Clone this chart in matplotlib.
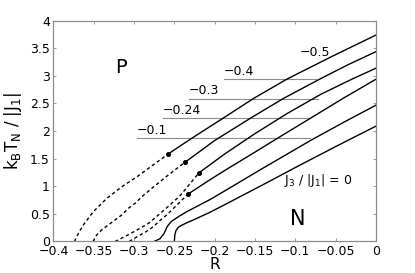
import matplotlib
matplotlib.use("Agg")
import matplotlib.pyplot as plt
import numpy as np

plt.rcParams['font.family'] = ['DejaVu Sans']
plt.rcParams['mathtext.fontset'] = 'dejavusans'

# J3/|J1| values of the curves
j3_values = [-0.5, -0.4, -0.3, -0.24, -0.1, 0]

# dashed (low-R) parts: R and T values
dash_R = {
    -0.5: [-0.374, -0.369, -0.363, -0.3506, -0.334, -0.3154, -0.2948, -0.2583],
    -0.4: [-0.351, -0.3464, -0.3402, -0.332, -0.3237, -0.3154, -0.3072, -0.2989, -0.2906, -0.275, -0.258, -0.2369],
    -0.3: [-0.3237, -0.310, -0.295, -0.282, -0.270, -0.258, -0.243, -0.2195],
    -0.24: [-0.306, -0.297, -0.285, -0.276, -0.268, -0.2596, -0.247, -0.2335],
}
dash_T = {
    -0.5: [0.0, 0.15, 0.30, 0.54, 0.78, 0.99, 1.19, 1.58],
    -0.4: [0.0, 0.118, 0.21, 0.30, 0.39, 0.48, 0.60, 0.69, 0.81, 1.0, 1.2, 1.435],
    -0.3: [0.0, 0.10, 0.22, 0.33, 0.48, 0.63, 0.83, 1.245],
    -0.24: [0.0, 0.08, 0.18, 0.27, 0.38, 0.48, 0.66, 0.855],
}

# solid parts: R and T values
solid_R = {
    -0.5: [-0.2583, -0.2285, -0.189, -0.152, -0.1107, -0.055, 0.0],
    -0.4: [-0.2369, -0.2, -0.155, -0.115, -0.07, -0.035, 0.0],
    -0.3: [-0.2195, -0.1872, -0.15, -0.11, -0.068, -0.03, 0.0],
    -0.24: [-0.2335, -0.2058, -0.1872, -0.15, -0.12, -0.085, -0.04, 0.0],
    -0.1: [-0.2753, -0.268, -0.263, -0.259, -0.254, -0.245, -0.2347, -0.2058,
           -0.1872, -0.14, -0.08, -0.04, 0.0],
    0: [-0.2501, -0.2495, -0.248, -0.245, -0.24, -0.2347, -0.2266, -0.2058,
        -0.1872, -0.14, -0.1, -0.05, 0.0],
}
solid_T = {
    -0.5: [1.58, 1.87, 2.24, 2.59, 2.94, 3.35, 3.74],
    -0.4: [1.435, 1.83, 2.24, 2.59, 2.94, 3.2, 3.44],
    -0.3: [1.245, 1.59, 1.955, 2.32, 2.67, 2.94, 3.14],
    -0.24: [0.855, 1.12, 1.29, 1.62, 1.89, 2.2, 2.6, 2.94],
    -0.1: [0.0, 0.05, 0.14, 0.27, 0.36, 0.45, 0.54, 0.76, 0.92, 1.33, 1.84, 2.16, 2.47],
    0: [0.0, 0.12, 0.20, 0.26, 0.30, 0.34, 0.39, 0.53, 0.67, 1.03, 1.34, 1.72, 2.09],
}

# label leader lines: (label, R start, R end, T)
leader_labels = ['-0.4', '-0.3', '-0.24', '-0.1']
leader_R0 = [-0.1885, -0.2319, -0.2641, -0.2964]
leader_R1 = [-0.0743, -0.0718, -0.0843, -0.0818]
leader_T = [2.94, 2.59, 2.24, 1.87]

xticks = [-0.4, -0.35, -0.3, -0.25, -0.2, -0.15, -0.1, -0.05, 0]
xticklabels = ['\u22120.4', '\u22120.35', '\u22120.3', '\u22120.25', '\u22120.2',
               '\u22120.15', '\u22120.1', '\u22120.05', '0']
yticks = [0, 0.5, 1, 1.5, 2, 2.5, 3, 3.5, 4]
yticklabels = ['0', '0.5', '1', '1.5', '2', '2.5', '3', '3.5', '4']

fig = plt.figure(figsize=(4.15, 2.73), dpi=100)
ax = fig.add_axes([0.1289, 0.1154, 0.7771, 0.8088])

gray = '#8c8c8c'
for lab, r0, r1, t in zip(leader_labels, leader_R0, leader_R1, leader_T):
    ax.plot([r0, r1], [t, t], color=gray, lw=0.8, zorder=1)
    ax.text(r0, t + 0.14, lab.replace('-', '\u2212'), fontsize=9, ha='left', va='center')

for j in j3_values:
    if j in dash_R:
        ax.plot(dash_R[j], dash_T[j], color='black', lw=1.0, linestyle=(0, (2.4, 2.0)), zorder=2)
        ax.plot([dash_R[j][-1]], [dash_T[j][-1]], 'o', color='black', ms=2.6, zorder=3)
    ax.plot(solid_R[j], solid_T[j], color='black', lw=1.0, zorder=2)

ax.text(-0.0942, 3.42, '\u22120.5', fontsize=9, ha='left', va='center')
ax.text(-0.114, 1.04, r'J$_\mathregular{3}$ / |J$_\mathregular{1}$| = 0', fontsize=9,
        ha='left', va='baseline')
ax.text(-0.3163, 3.16, 'P', fontsize=14, ha='center', va='center')
ax.text(-0.0967, 0.40, 'N', fontsize=15, ha='center', va='center')

ax.set_xlim(-0.4, 0)
ax.set_ylim(0, 4)
ax.set_xticks(xticks)
ax.set_xticklabels(xticklabels)
ax.set_yticks(yticks)
ax.set_yticklabels(yticklabels)
ax.tick_params(direction='in', length=2.5, width=0.6, color=gray, labelsize=9,
               top=True, right=True, pad=2.5)
for s in ax.spines.values():
    s.set_color(gray)
    s.set_linewidth(0.9)

ax.set_xlabel('R', fontsize=11, labelpad=-1)
ax.set_ylabel(r'k$_\mathregular{B}$T$_\mathregular{N}$ / |J$_\mathregular{1}$|', fontsize=12, labelpad=4)

fig.savefig('out.png', dpi=100)
